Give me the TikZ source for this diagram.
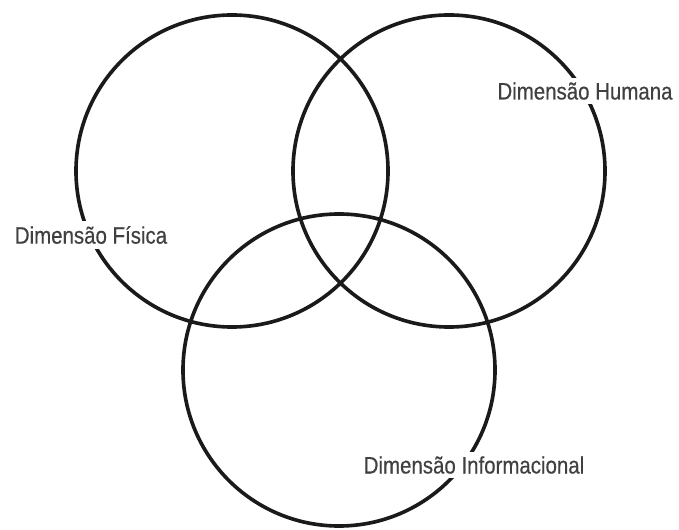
\documentclass[tikz,border=0pt]{standalone}
\usepackage{fontspec}
\newfontfamily\dimfont{Liberation Sans}[FakeStretch=0.86,FakeBold=0.4]
\usetikzlibrary{positioning}
\definecolor{ringStroke}{HTML}{1A1A1A}
\definecolor{labelText}{HTML}{404040}

\begin{document}
\begin{tikzpicture}[
  x=0.03cm,y=0.03cm,
  ring/.style={circle,draw=ringStroke,line width=3.1pt,minimum size=9.36cm,inner sep=0pt},
  dimlabel/.style={fill=white,text=labelText,inner xsep=1pt,inner ysep=4pt,font=\dimfont\fontsize{20.3}{22}\selectfont}
]
\useasboundingbox (0,0) rectangle (679,529);
% Three overlapping dimensions; labels sit on the outer rims with a white backing.
\node[ring] (fisica) at (232,358) {};
\node[ring] (humana) at (449,358) {};
\node[ring] (informacional) at (339,159) {};
\node[dimlabel] (lblFisica) at (91,294) {Dimensão Física};
\node[dimlabel] (lblHumana) at (585,438) {Dimensão Humana};
\node[dimlabel] (lblInformacional) at (474,64) {Dimensão Informacional};
\end{tikzpicture}
\end{document}
